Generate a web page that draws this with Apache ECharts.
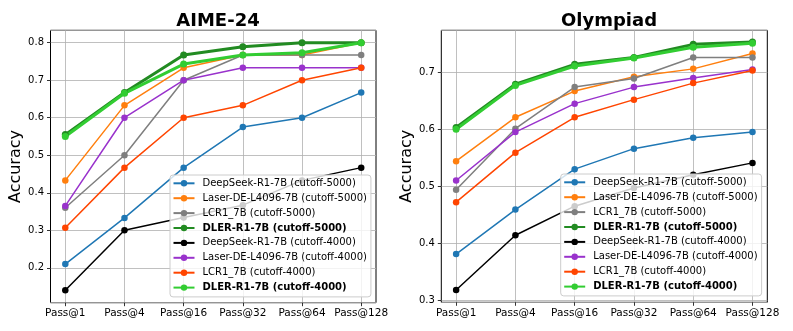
<!DOCTYPE html>
<html>
<head>
<meta charset="utf-8">
<script src="https://cdn.jsdelivr.net/npm/echarts@6/dist/echarts.min.js"></script>
<style>
html,body{margin:0;padding:0;background:#fff;}
#chart{width:793px;height:331px;}
</style>
</head>
<body>
<div id="chart"></div>
<script>
// ---------- Data ----------
const categories = ['Pass@1', 'Pass@4', 'Pass@16', 'Pass@32', 'Pass@64', 'Pass@128'];
const seriesNames = [
  'DeepSeek-R1-7B (cutoff-5000)',
  'Laser-DE-L4096-7B (cutoff-5000)',
  'LCR1_7B (cutoff-5000)',
  'DLER-R1-7B (cutoff-5000)',
  'DeepSeek-R1-7B (cutoff-4000)',
  'Laser-DE-L4096-7B (cutoff-4000)',
  'LCR1_7B (cutoff-4000)',
  'DLER-R1-7B (cutoff-4000)'
];
const panelTitles = ['AIME-24', 'Olympiad'];
const yAxisName = 'Accuracy';

// AIME-24
const aimeDeepSeek5000 = [0.210, 0.333, 0.467, 0.575, 0.600, 0.667];
const aimeLaser5000    = [0.433, 0.633, 0.733, 0.767, 0.767, 0.800];
const aimeLCR5000      = [0.360, 0.500, 0.700, 0.767, 0.767, 0.767];
const aimeDLER5000     = [0.555, 0.667, 0.767, 0.789, 0.800, 0.800];
const aimeDeepSeek4000 = [0.140, 0.300, 0.334, 0.367, 0.433, 0.467];
const aimeLaser4000    = [0.365, 0.600, 0.700, 0.733, 0.733, 0.733];
const aimeLCR4000      = [0.307, 0.467, 0.600, 0.633, 0.700, 0.733];
const aimeDLER4000     = [0.550, 0.665, 0.743, 0.767, 0.773, 0.800];

// Olympiad
const olyDeepSeek5000 = [0.381, 0.459, 0.530, 0.566, 0.585, 0.595];
const olyLaser5000    = [0.544, 0.621, 0.667, 0.692, 0.706, 0.733];
const olyLCR5000      = [0.494, 0.601, 0.674, 0.689, 0.726, 0.726];
const olyDLER5000     = [0.603, 0.679, 0.714, 0.726, 0.749, 0.753];
const olyDeepSeek4000 = [0.318, 0.414, 0.465, 0.497, 0.520, 0.541];
const olyLaser4000    = [0.510, 0.595, 0.645, 0.674, 0.690, 0.705];
const olyLCR4000      = [0.472, 0.559, 0.621, 0.652, 0.681, 0.703];
const olyDLER4000     = [0.600, 0.677, 0.711, 0.725, 0.744, 0.751];

const aimeSeries = [aimeDeepSeek5000, aimeLaser5000, aimeLCR5000, aimeDLER5000,
                    aimeDeepSeek4000, aimeLaser4000, aimeLCR4000, aimeDLER4000];
const olySeries = [olyDeepSeek5000, olyLaser5000, olyLCR5000, olyDLER5000,
                   olyDeepSeek4000, olyLaser4000, olyLCR4000, olyDLER4000];

// ---------- Styles ----------
const colors = ['#1f77b4', '#ff7f0e', '#7f7f7f', '#228b22', '#000000', '#9932cc', '#ff4500', '#32cd32'];
const boldIdx = [3, 7];
const FONT = 'DejaVu Sans';

const panels = [
  { frame: { left: 50.5, top: 30.3, width: 325.5, height: 272.4 }, yMin: 0.107, yMax: 0.833, data: aimeSeries,
    legend: { left: 170, top: 175 }, titleX: 213 },
  { frame: { left: 441.3, top: 30.3, width: 326, height: 272 }, yMin: 0.2963, yMax: 0.7737, data: olySeries,
    legend: { left: 560.7, top: 174 }, titleX: 604 }
];

const grid = [], xAxis = [], yAxis = [], series = [], legend = [], title = [];

panels.forEach((p, pi) => {
  const f = p.frame;
  const fIdx = grid.length;
  grid.push({ left: f.left, top: f.top, width: f.width, height: f.height, show: true,
              borderColor: '#000', borderWidth: 1, backgroundColor: 'transparent' });
  const dIdx = grid.length;
  grid.push({ left: f.left + f.width * 0.25 / 5.5, top: f.top, width: f.width * 5 / 5.5, height: f.height });

  xAxis.push({ gridIndex: fIdx, type: 'value', min: 0, max: 1, show: false });
  yAxis.push({
    gridIndex: fIdx, type: 'value', min: p.yMin, max: p.yMax, minInterval: 0.1, maxInterval: 0.1,
    name: yAxisName, nameLocation: 'middle', nameGap: 24,
    nameTextStyle: { fontFamily: FONT, fontSize: 16, color: '#000' },
    axisLine: { show: false },
    axisTick: { show: true, length: 3.5, lineStyle: { color: '#000', width: 0.8 } },
    axisLabel: { fontFamily: FONT, fontSize: 10, color: '#000', margin: 6.5, showMinLabel: false, showMaxLabel: false,
                 formatter: v => v.toFixed(1) },
    splitLine: { show: true, lineStyle: { color: '#b0b0b0', width: 0.8 } }
  });
  xAxis.push({
    gridIndex: dIdx, type: 'category', boundaryGap: false, data: categories,
    axisLine: { show: false },
    axisTick: { show: true, interval: 0, length: 3.5, lineStyle: { color: '#000', width: 0.8 } },
    axisLabel: { interval: 0, fontFamily: FONT, fontSize: 10.5, color: '#000', margin: 5 },
    splitLine: { show: true, interval: 0, lineStyle: { color: '#b0b0b0', width: 0.8 } }
  });
  yAxis.push({ gridIndex: dIdx, type: 'value', min: p.yMin, max: p.yMax, show: false });

  p.data.forEach((arr, si) => {
    const bold = boldIdx.includes(si);
    series.push({
      type: 'line', name: seriesNames[si], xAxisIndex: dIdx, yAxisIndex: dIdx,
      data: arr, symbol: 'circle', symbolSize: bold ? 7 : 6.5, showSymbol: true,
      lineStyle: { color: colors[si], width: bold ? 3 : 1.5 },
      itemStyle: { color: colors[si] },
      emphasis: { disabled: true }, silent: true, animation: false
    });
  });

  legend.push({
    orient: 'vertical', left: p.legend.left, top: p.legend.top,
    padding: [2.3, 4, 3.3, 2.5], itemGap: 2.9, itemWidth: 21, itemHeight: 8,
    backgroundColor: 'rgba(255,255,255,0.8)', borderColor: '#cccccc', borderWidth: 1, borderRadius: 3,
    textStyle: { fontFamily: FONT, fontSize: 10, color: '#000', lineHeight: 12, padding: [0, 0, 0, 3] },
    selectedMode: false,
    data: seriesNames.map((n, i) => boldIdx.includes(i) ? { name: n, textStyle: { fontWeight: 'bold' } } : { name: n })
  });

  title.push({
    text: panelTitles[pi], left: p.titleX, top: 7, textAlign: 'center',
    textStyle: { fontFamily: FONT, fontSize: 18, fontWeight: 'bold', color: '#000' }
  });
});

const chart = echarts.init(document.getElementById('chart'), null, { renderer: 'canvas' });
chart.setOption({
  animation: false,
  backgroundColor: '#fff',
  title, grid, xAxis, yAxis, series, legend
});
</script>
</body>
</html>
